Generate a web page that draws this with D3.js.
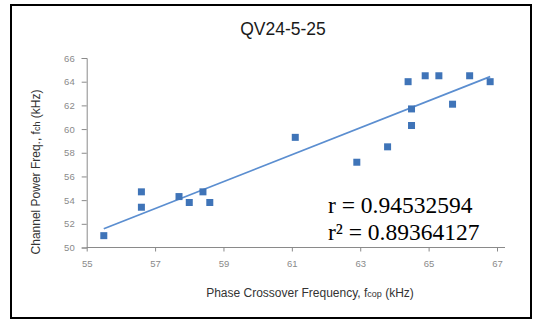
<!DOCTYPE html>
<html>
<head>
<meta charset="utf-8">
<script src="https://cdn.jsdelivr.net/npm/d3@7"></script>
<style>
  body { margin: 0; background: #fff; }
  svg { display: block; }
</style>
</head>
<body>
<div id="chart"></div>
<script>
// phase crossover frequency (kHz) vs channel power freq (kHz)
const fcop = [55.5, 56.6, 56.6, 57.7, 58.0, 58.4, 58.6, 61.1, 62.9, 63.8, 64.4, 64.5, 64.5, 64.9, 65.3, 65.7, 66.2, 66.8]
const fch  = [51.0, 54.7, 53.4, 54.3, 53.8, 54.7, 53.8, 59.3, 57.2, 58.5, 64.0, 61.7, 60.3, 64.5, 64.5, 62.1, 64.5, 64.0]
const xTicks = [55, 57, 59, 61, 63, 65, 67]
const yTicks = [50, 52, 54, 56, 58, 60, 62, 64, 66]
const stats = ['r = 0.94532594', 'r² = 0.89364127']

const W = 544, H = 320
const points = fcop.map((x, i) => ({ x, y: fch[i] }))

const x = d3.scaleLinear().domain([55, 67]).range([86.7, 497])
const y = d3.scaleLinear().domain([50, 66]).range([247.5, 58])

// least squares fit for the trend line
const mx = d3.mean(fcop), my = d3.mean(fch)
const slope = d3.sum(points, d => (d.x - mx) * (d.y - my)) / d3.sum(points, d => (d.x - mx) ** 2)
const icpt = my - slope * mx
const [x0, x1] = d3.extent(fcop)
const fit = [x0, x1].map(v => ({ x: v, y: icpt + slope * v }))

const svg = d3.select('#chart').append('svg')
  .attr('width', W)
  .attr('height', H)
  .style('font-family', 'Arial, "Liberation Sans", sans-serif')

svg.append('rect')
  .attr('x', 11).attr('y', 5)
  .attr('width', 520).attr('height', 313)
  .attr('fill', '#fff')
  .attr('stroke', '#000')
  .attr('stroke-width', 2)

svg.append('text')
  .attr('x', 283).attr('y', 35)
  .attr('text-anchor', 'middle')
  .attr('font-size', 17.5)
  .attr('fill', '#1a1a1a')
  .text('QV24-5-25')

// axes
const xAxis = svg.append('g')
  .attr('transform', `translate(0,${y(50)})`)
  .call(d3.axisBottom(x).tickValues(xTicks).tickSize(4).tickPadding(9).tickFormat(d3.format('d')))
xAxis.select('.domain').attr('d', `M${x(55)},0H505`)

const yAxis = svg.append('g')
  .attr('transform', `translate(${x(55)},0)`)
  .call(d3.axisLeft(y).tickValues(yTicks).tickSize(5).tickPadding(7).tickFormat(d3.format('d')))

svg.selectAll('.domain').attr('stroke', '#8a8a8a')
svg.selectAll('.tick line').attr('stroke', '#8a8a8a')
svg.selectAll('.tick text')
  .attr('fill', '#8a8a8a')
  .attr('font-size', 9.5)
  .attr('font-family', 'Arial, "Liberation Sans", sans-serif')

// axis titles
const xt = svg.append('text')
  .attr('x', 310).attr('y', 297)
  .attr('text-anchor', 'middle')
  .attr('font-size', 12)
  .attr('fill', '#333')
xt.append('tspan').text('Phase Crossover Frequency, f')
xt.append('tspan').attr('font-size', 9).text('cop')
xt.append('tspan').text(' (kHz)')

const yt = svg.append('text')
  .attr('transform', 'translate(40,172) rotate(-90)')
  .attr('text-anchor', 'middle')
  .attr('font-size', 12)
  .attr('fill', '#333')
yt.append('tspan').text('Channel Power Freq., f')
yt.append('tspan').attr('font-size', 9).text('ch')
yt.append('tspan').text(' (kHz)')

// trend line
svg.append('path')
  .datum(fit)
  .attr('d', d3.line().x(d => x(d.x)).y(d => y(d.y)))
  .attr('fill', 'none')
  .attr('stroke', '#5b8ed0')
  .attr('stroke-width', 1.8)

// markers
const s = 7
svg.append('g')
  .selectAll('rect')
  .data(points)
  .join('rect')
    .attr('x', d => x(d.x) - s / 2)
    .attr('y', d => y(d.y) - s / 2)
    .attr('width', s)
    .attr('height', s)
    .attr('fill', '#3f74b8')

// correlation text
svg.append('g')
  .selectAll('text')
  .data(stats)
  .join('text')
    .attr('x', 328)
    .attr('y', (d, i) => 213 + i * 27)
    .attr('font-family', '"Liberation Serif", "Times New Roman", serif')
    .attr('font-size', 23.5)
    .attr('fill', '#000')
    .text(d => d)
</script>
</body>
</html>
